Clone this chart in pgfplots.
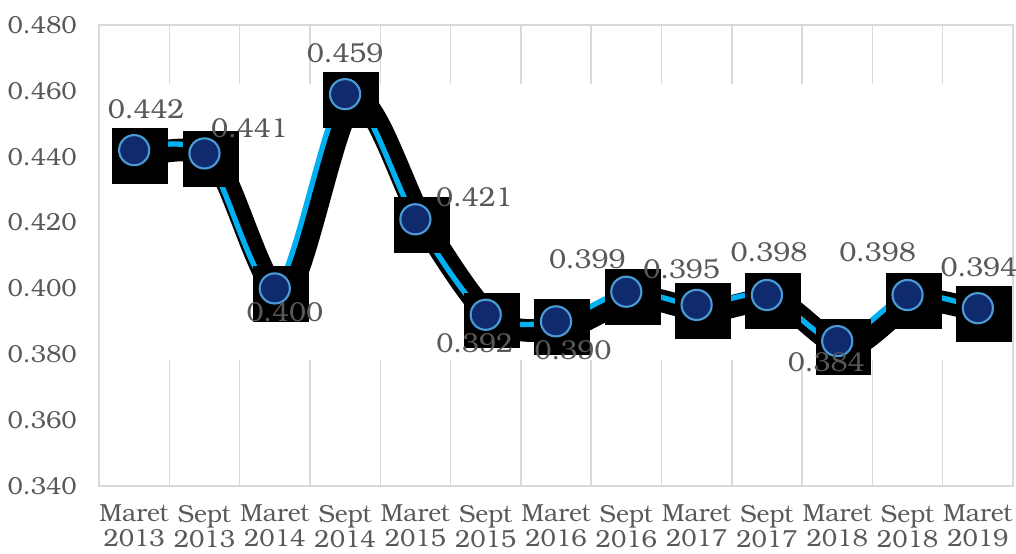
\documentclass[border=0pt]{standalone}
\usepackage{fontspec}
\setmainfont{TeX Gyre Bonum}
\usepackage{pgfplots}
\pgfplotsset{compat=1.18}
\definecolor{txt}{HTML}{595959}
\definecolor{gridc}{HTML}{D9D9D9}
\definecolor{lineblue}{HTML}{00B0F0}
\definecolor{mkfill}{HTML}{102A6E}
\definecolor{mkedge}{HTML}{4A9BD5}
\begin{document}
\begin{tikzpicture}
\begin{axis}[
  scale only axis, width=685.5pt, height=345.75pt,
  xmin=-0.5, xmax=12.5, ymin=0.34, ymax=0.48,
  clip=false,
  axis line style={gridc, line width=1.1pt},
  xtick={0,...,12},
  xticklabels={{Maret\\2013},{Sept\\2013},{Maret\\2014},{Sept\\2014},{Maret\\2015},{Sept\\2015},{Maret\\2016},{Sept\\2016},{Maret\\2017},{Sept\\2017},{Maret\\2018},{Sept\\2018},{Maret\\2019}},
  minor xtick={0.5,1.5,...,11.5},
  xminorgrids=true,
  minor grid style={gridc, line width=1.1pt},
  major tick length=0pt, minor tick length=0pt,
  ytick={0.34,0.36,...,0.481},
  scaled y ticks=false,
  yticklabel style={/pgf/number format/fixed, /pgf/number format/fixed zerofill, /pgf/number format/precision=3, /pgf/number format/assume math mode=true, anchor=east, inner sep=0pt, xshift=-16.5pt, font=\fontsize{18.5}{18.5}\selectfont, text=txt},
  xticklabel style={align=center, anchor=north, inner sep=0pt, yshift=-14pt, font=\fontsize{18.5}{18.75}\selectfont, text=txt},
  tick align=outside,
]
% white band hiding gridlines
\fill[white] (axis cs:-0.47,0.3783) rectangle (axis cs:12.47,0.4621);
% shadow
\addplot[black, line width=17pt, smooth, line join=round, line cap=round, xshift=7pt, yshift=-4.5pt] coordinates {
(0,0.442) (1,0.441) (2,0.400) (3,0.459) (4,0.421) (5,0.392) (6,0.390) (7,0.399) (8,0.395) (9,0.398) (10,0.384) (11,0.398) (12,0.394)};
\addplot[only marks, mark=square*, mark size=20.6pt, black, xshift=4.5pt, yshift=-4.1pt] coordinates {
(0,0.442) (1,0.441) (2,0.400) (3,0.459) (4,0.421) (5,0.392) (6,0.390) (7,0.399) (8,0.395) (9,0.398) (10,0.384) (11,0.398) (12,0.394)};
% main line
\addplot[lineblue, line width=4pt, smooth, mark=*, mark size=11.3pt, mark options={fill=mkfill, draw=mkedge, line width=1.6pt}] coordinates {
(0,0.442) (1,0.441) (2,0.400) (3,0.459) (4,0.421) (5,0.392) (6,0.390) (7,0.399) (8,0.395) (9,0.398) (10,0.384) (11,0.398) (12,0.394)};
\coordinate (p0) at (axis cs:0,0.442);
\coordinate (p1) at (axis cs:1,0.441);
\coordinate (p2) at (axis cs:2,0.400);
\coordinate (p3) at (axis cs:3,0.459);
\coordinate (p4) at (axis cs:4,0.421);
\coordinate (p5) at (axis cs:5,0.392);
\coordinate (p6) at (axis cs:6,0.390);
\coordinate (p7) at (axis cs:7,0.399);
\coordinate (p8) at (axis cs:8,0.395);
\coordinate (p9) at (axis cs:9,0.398);
\coordinate (p10) at (axis cs:10,0.384);
\coordinate (p11) at (axis cs:11,0.398);
\coordinate (p12) at (axis cs:12,0.394);
\end{axis}
% data labels on top
\begin{scope}[every node/.style={text=txt, font=\fontsize{20.5}{20.5}\selectfont, inner sep=0pt}]
\node[xshift=9pt, yshift=30.75pt] at (p0) {0.442};
\node[xshift=33.75pt, yshift=18.75pt] at (p1) {0.441};
\node[xshift=7.5pt, yshift=-18pt] at (p2) {0.400};
\node[xshift=0pt, yshift=30.75pt] at (p3) {0.459};
\node[xshift=44.25pt, yshift=16.5pt] at (p4) {0.421};
\node[xshift=-8.25pt, yshift=-21pt] at (p5) {0.392};
\node[xshift=12.75pt, yshift=-21.75pt] at (p6) {0.390};
\node[xshift=-29.25pt, yshift=24.75pt] at (p7) {0.399};
\node[xshift=-11.25pt, yshift=27pt] at (p8) {0.395};
\node[xshift=1.5pt, yshift=32.25pt] at (p9) {0.398};
\node[xshift=-8.25pt, yshift=-15.75pt] at (p10) {0.384};
\node[xshift=-22.5pt, yshift=32.25pt] at (p11) {0.398};
\node[xshift=0.75pt, yshift=30.75pt] at (p12) {0.394};
\end{scope}
\pgfresetboundingbox
\path[use as bounding box] (-74.25pt,-50.25pt) rectangle (687.75pt,364.5pt);
\end{tikzpicture}
\end{document}
